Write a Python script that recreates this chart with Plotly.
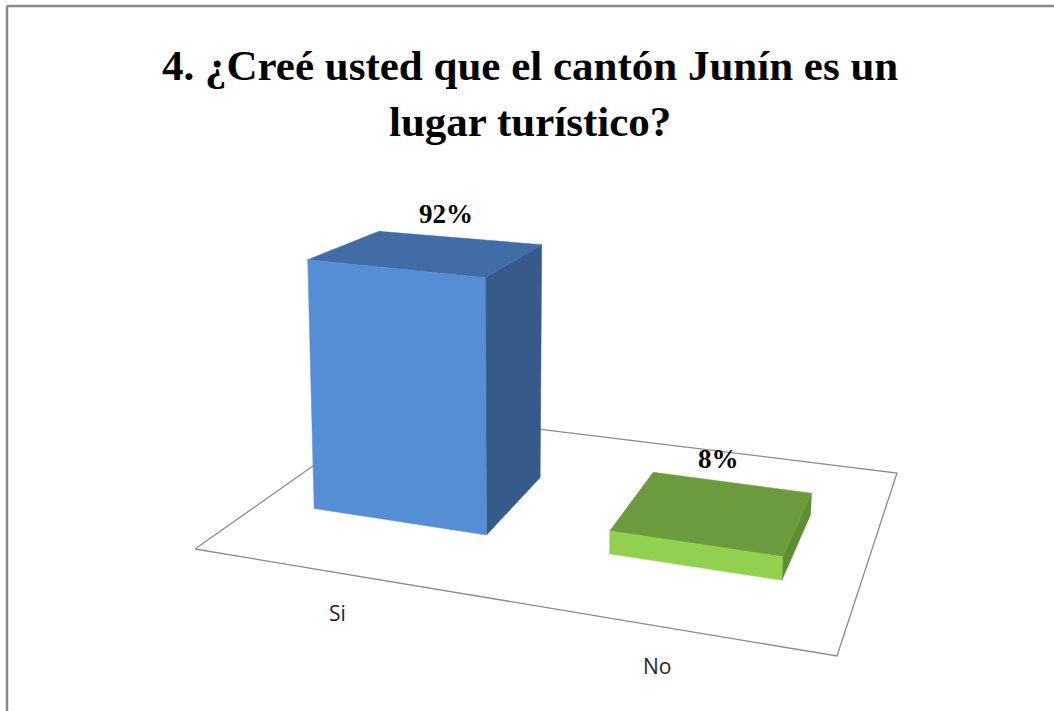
"""3D-look column chart (Excel style) drawn on a flat pixel canvas."""

import numpy as np
import plotly.graph_objects as go

# ---------------------------------------------------------------------------
# Data
# ---------------------------------------------------------------------------
categories = ["Si", "No"]
values = [92, 8]                      # percent
value_labels = ["92%", "8%"]
title = "4. ¿Creé usted que el cantón Junín es un<br>lugar turístico?"

# face colours per bar: (front, top, side)
bar_colors = [("#558ed5", "#426ca6", "#365b8b"),
              ("#92d050", "#6b9b3d", "#5e8e31")]

# ---------------------------------------------------------------------------
# Projection of the chart floor (u across categories, v into depth)
# ---------------------------------------------------------------------------
W, H = 1054, 711
FLOOR = np.array([[195, 549], [837, 656], [897, 473], [391, 411]], float)
BAR_W = 0.29
DEPTH = (0.35, 0.72)


def floor_pt(u, v):
    p00, p10, p11, p01 = FLOOR
    return (1 - u) * (1 - v) * p00 + u * (1 - v) * p10 + u * v * p11 + (1 - u) * v * p01


def project(u, v, h):
    x, y = floor_pt(u, v)
    k = 2.926 + 0.313 * u - 0.71 * v      # px per percent point
    m = 0.115 - 0.19 * u - 0.084 * v      # slant of the verticals
    return x - h * m, y - h * k


def face(pts):
    xy = [project(*p) for p in pts]
    xs = [p[0] for p in xy] + [xy[0][0]]
    ys = [p[1] for p in xy] + [xy[0][1]]
    return xs, ys


fig = go.Figure()

# floor outline
fx = list(FLOOR[:, 0]) + [FLOOR[0, 0]]
fy = list(FLOOR[:, 1]) + [FLOOR[0, 1]]
fig.add_scatter(x=fx, y=fy, mode="lines", fill="toself", fillcolor="white",
                line=dict(color="#8c8c8c", width=1.3), hoverinfo="skip")

for i, (cat, val, lab) in enumerate(zip(categories, values, value_labels)):
    uc = 0.23 + 0.497 * i
    u0, u1 = uc - BAR_W / 2, uc + BAR_W / 2
    v0, v1 = DEPTH
    front, top, side = bar_colors[i]
    faces = [
        ([(u1, v0, 0), (u1, v1, 0), (u1, v1, val), (u1, v0, val)], side),
        ([(u0, v0, val), (u1, v0, val), (u1, v1, val), (u0, v1, val)], top),
        ([(u0, v0, 0), (u1, v0, 0), (u1, v0, val), (u0, v0, val)], front),
    ]
    for pts, col in faces:
        xs, ys = face(pts)
        fig.add_scatter(x=xs, y=ys, mode="lines", fill="toself", fillcolor=col,
                        line=dict(color=col, width=0.5), name=cat,
                        hovertemplate=f"{cat}: {lab}<extra></extra>")

    # data label above the bar
    lx, ly = project(uc, v1, val)
    fig.add_annotation(x=lx - 14, y=ly - 24, text=f"<b>{lab}</b>", showarrow=False,
                       font=dict(family="Liberation Serif, Times New Roman, serif",
                                 size=27, color="black"))
    # category label in front of the floor
    cx, cy = floor_pt(uc, 0)
    fig.add_annotation(x=cx - 5, y=cy + 39, text=cat, showarrow=False,
                       font=dict(family="Liberation Sans Narrow, Open Sans, sans-serif",
                                 size=21, color="#262626"))

fig.add_annotation(x=530, y=93, text=f"<b>{title}</b>", showarrow=False,
                   yanchor="middle",
                   font=dict(family="Liberation Serif, Times New Roman, serif",
                             size=43, color="black"))

# chart border (top and left edges visible)
fig.add_shape(type="line", x0=7, x1=W, y0=6, y1=6, line=dict(color="#8a8a8a", width=2.5))
fig.add_shape(type="line", x0=7, x1=7, y0=6, y1=H, line=dict(color="#8a8a8a", width=2.5))

fig.update_layout(
    width=W, height=H, showlegend=False,
    paper_bgcolor="white", plot_bgcolor="white",
    margin=dict(l=0, r=0, t=0, b=0),
    xaxis=dict(range=[0, W], visible=False, fixedrange=True),
    yaxis=dict(range=[H, 0], visible=False, fixedrange=True),
)

fig.write_html("out.html", config={"displayModeBar": False},
               post_script="document.body.style.margin = '0';")
